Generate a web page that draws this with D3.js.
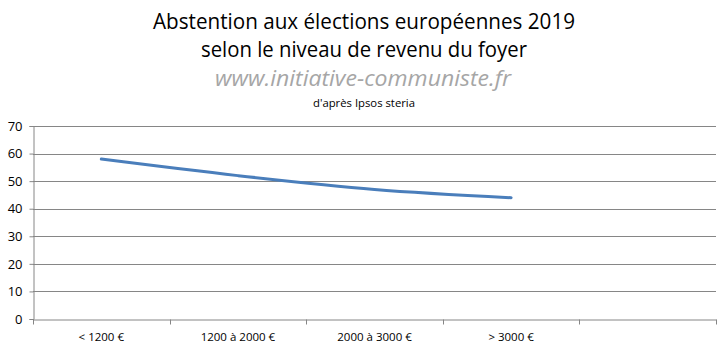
<!DOCTYPE html>
<html><head><meta charset="utf-8">
<script src="https://cdn.jsdelivr.net/npm/d3@7"></script>
<style>body{margin:0;background:#fff}svg{display:block}</style>
</head><body>
<script>
const categories = ["< 1200 €", "1200 à 2000 €", "2000 à 3000 €", "> 3000 €", ""];
const values = [58, 52, 47, 44];
const yTicks = [0, 10, 20, 30, 40, 50, 60, 70];
const titleLines = ["Abstention aux élections européennes 2019", "selon le niveau de revenu du foyer"];
const watermark = "www.initiative-communiste.fr";
const subtitle = "d'après Ipsos steria";

(function () {
const W = 725, H = 353;
const svg = d3.select("body").append("svg").attr("width", W).attr("height", H);
const pLeft = 33, pRight = 716, pTop = 126, pBottom = 319;
const x = d3.scaleBand().domain(categories).range([pLeft, pRight]).padding(0);
const y = d3.scaleLinear().domain([0, 70]).range([pBottom, pTop]);
const font = "Open Sans, Lato, sans-serif";
const gray = "#868686";

// titles
const tl = [[titleLines[0], 29, 21, 422], [titleLines[1], 57, 21, 326]];
tl.forEach(([t, yy, fs, len]) => {
  svg.append("text").attr("x", 364).attr("y", yy).attr("text-anchor", "middle")
    .attr("font-family", font).attr("font-size", fs).attr("fill", "#000")
    .attr("textLength", len).attr("lengthAdjust", "spacingAndGlyphs").text(t);
});
svg.append("text").attr("x", 363).attr("y", 86).attr("text-anchor", "middle")
  .attr("font-family", font).attr("font-size", 21).attr("font-style", "italic").attr("fill", "#a6a6a6")
  .attr("textLength", 296).attr("lengthAdjust", "spacingAndGlyphs").text(watermark);
svg.append("text").attr("x", 364).attr("y", 107).attr("text-anchor", "middle")
  .attr("font-family", font).attr("font-size", 11).attr("fill", "#000")
  .attr("textLength", 102).attr("lengthAdjust", "spacingAndGlyphs").text(subtitle);

// gridlines
svg.append("g").selectAll("line").data(yTicks.filter(d => d > 0)).join("line")
  .attr("x1", pLeft).attr("x2", pRight).attr("y1", d => Math.round(y(d)) + 0.5).attr("y2", d => Math.round(y(d)) + 0.5)
  .attr("stroke", gray).attr("stroke-width", 1);

// y axis
const ya = svg.append("g").attr("transform", `translate(${pLeft + 0.5},0)`)
  .call(d3.axisLeft(y).tickValues(yTicks).tickSize(4).tickPadding(7).tickFormat(d3.format("d")));
ya.select(".domain").attr("stroke", gray);
ya.selectAll(".tick line").attr("stroke", gray);
ya.selectAll(".tick text").attr("font-family", font).attr("font-size", 13).attr("fill", "#000");

// x axis
const xa = svg.append("g").attr("transform", `translate(0,${Math.round(pBottom) + 0.5})`)
  .call(d3.axisBottom(x).tickSize(0).tickPadding(13));
xa.select(".domain").attr("stroke", gray);
xa.selectAll(".tick text").attr("font-family", font).attr("font-size", 11.5).attr("fill", "#000");
const bounds = categories.map(c => x(c)).concat([pRight]);
xa.selectAll(".bt").data(bounds).join("line").attr("class", "bt")
  .attr("x1", d => Math.round(d) + 0.5).attr("x2", d => Math.round(d) + 0.5).attr("y1", 0).attr("y2", 5)
  .attr("stroke", gray);

// line
const pts = values.map((v, i) => [x(categories[i]) + x.bandwidth() / 2, y(v)]);
svg.append("path").attr("d", d3.line().curve(d3.curveCatmullRom.alpha(0.5))(pts))
  .attr("fill", "none").attr("stroke", "#4a7ebb").attr("stroke-width", 3).attr("stroke-linecap", "round");
})();
</script>
</body></html>
